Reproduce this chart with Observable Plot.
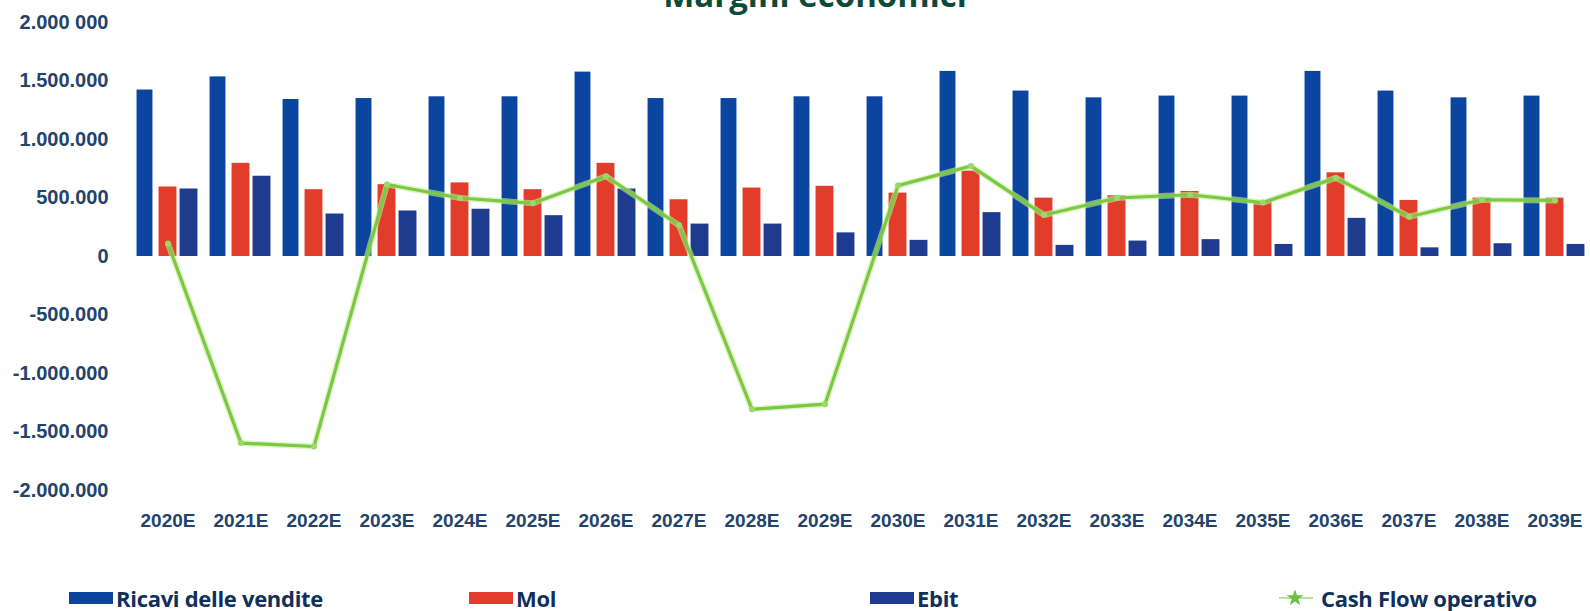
<!DOCTYPE html>
<html><head><meta charset="utf-8">
<script src="https://cdn.jsdelivr.net/npm/d3@7"></script>
<script src="https://cdn.jsdelivr.net/npm/@observablehq/plot@0.6"></script>
<style>
html,body{margin:0;padding:0;background:#fff;overflow:hidden;width:1590px;height:611px}
#wrap{position:relative;width:1590px;height:611px}
#title{position:absolute;left:20px;width:1590px;text-align:center;top:-22px;font:700 33px "Open Sans";color:#0d4a38;line-height:1;white-space:nowrap}
#chart{position:absolute;left:0;top:0}
.item{position:absolute;top:585px;height:26px;display:flex;align-items:center;font:700 22px "Open Sans";color:#10305a;white-space:nowrap;letter-spacing:-0.3px}
.sw{width:44px;height:12px;margin-right:3px}
</style></head>
<body><div id="wrap"><div id="title">Margini economici</div><div id="chart"></div><div id="legend"></div></div>
<script>
const years = ["2020E","2021E","2022E","2023E","2024E","2025E","2026E","2027E","2028E","2029E","2030E","2031E","2032E","2033E","2034E","2035E","2036E","2037E","2038E","2039E"];
const ricavi = [1423000,1535000,1342000,1350000,1365000,1365000,1576000,1350000,1350000,1365000,1365000,1582000,1414000,1356000,1371000,1371000,1582000,1414000,1356000,1371000];
const mol = [594000,796000,571000,614000,629000,571000,796000,485000,585000,600000,542000,730000,499000,519000,556000,470000,715000,479000,499000,499000];
const ebit = [577000,686000,363000,389000,404000,349000,577000,277000,277000,202000,138000,375000,95000,132000,144000,103000,326000,74000,109000,103000];
const cashFlow = [110000,-1595000,-1624000,615000,500000,455000,686000,268000,-1306000,-1262000,606000,773000,355000,500000,528000,461000,672000,340000,485000,479000];
const seriesNames = ["Ricavi delle vendite","Mol","Ebit","Cash Flow operativo"];
const colors = ["#0b45a0","#e23c2a","#1f3b8f","#7ac943"];
const yTicks = [-2000000,-1500000,-1000000,-500000,0,500000,1000000,1500000,2000000];
const yTickLabels = ["-2.000.000","-1.500.000","-1.000.000","-500.000","0","500.000","1.000.000","1.500.000","2.000 000"];

const xRange = [129.5, 1591.5];
const bw = (xRange[1]-xRange[0]) / years.length;
const half = bw/2;
const barRows = (vals) => years.map((y,i)=>({year:y, value:vals[i]}));
const lineRows = years.map((y,i)=>({year:y, value:cashFlow[i]}));
// bar offsets relative to band centre [left,right]
const offs = [[-31,-15],[-9,9],[12,30]];
const barMark = (vals, k) => Plot.barY(barRows(vals), {
  x:"year", y:"value", fill: colors[k],
  insetLeft: half + offs[k][0], insetRight: half - offs[k][1]
});

const chart = Plot.plot({
  width: 1590, height: 545,
  marginTop: 22, marginBottom: 55, marginLeft: 130, marginRight: 0,
  style: {fontFamily: "Liberation Sans", color: "#23436b", background: "transparent"},
  x: {type:"band", domain: years, range: xRange, padding: 0},
  y: {domain: [-2000000, 2000000]},
  marks: [
    barMark(ricavi,0), barMark(mol,1), barMark(ebit,2),
    Plot.line(lineRows, {x:"year", y:"value", stroke:"#c9ec9c", strokeWidth:6, strokeOpacity:0.6}),
    Plot.line(lineRows, {x:"year", y:"value", stroke: colors[3], strokeWidth:3.2}),
    Plot.dot(lineRows, {x:"year", y:"value", r:3, fill:"#9ad86a", stroke:"none"}),
    Plot.axisY({ticks: yTicks, tickFormat: d => yTickLabels[yTicks.indexOf(d)], tickSize:0, tickPadding:22, fontSize:20, fontWeight:"bold", label:null}),
    Plot.axisX({tickSize:0, tickPadding:23, fontSize:19, fontWeight:"bold", label:null})
  ]
});
document.getElementById("chart").appendChild(chart);

const legend = document.getElementById("legend");
const lefts = [69, 469, 870, 1279];
seriesNames.forEach((name,k)=>{
  const it = document.createElement("div");
  it.className = "item";
  it.style.left = lefts[k] + "px";
  if (k < 3) {
    const sw = document.createElement("div");
    sw.className = "sw"; sw.style.background = colors[k];
    it.appendChild(sw);
  } else {
    const ns = "http://www.w3.org/2000/svg";
    const s = document.createElementNS(ns, "svg");
    s.setAttribute("width", 34); s.setAttribute("height", 16);
    s.style.marginRight = "8px";
    const l = document.createElementNS(ns, "line");
    l.setAttribute("x1",0); l.setAttribute("x2",34); l.setAttribute("y1",8); l.setAttribute("y2",8);
    l.setAttribute("stroke","#b9e29a"); l.setAttribute("stroke-width",2);
    s.appendChild(l);
    const p = document.createElementNS(ns, "path");
    p.setAttribute("d", d3.symbol(d3.symbolStar, 90)());
    p.setAttribute("transform","translate(16,8)");
    p.setAttribute("fill","#6cbf45");
    s.appendChild(p);
    it.appendChild(s);
  }
  const t = document.createElement("span");
  t.textContent = name;
  it.appendChild(t);
  legend.appendChild(it);
});
</script></body></html>
